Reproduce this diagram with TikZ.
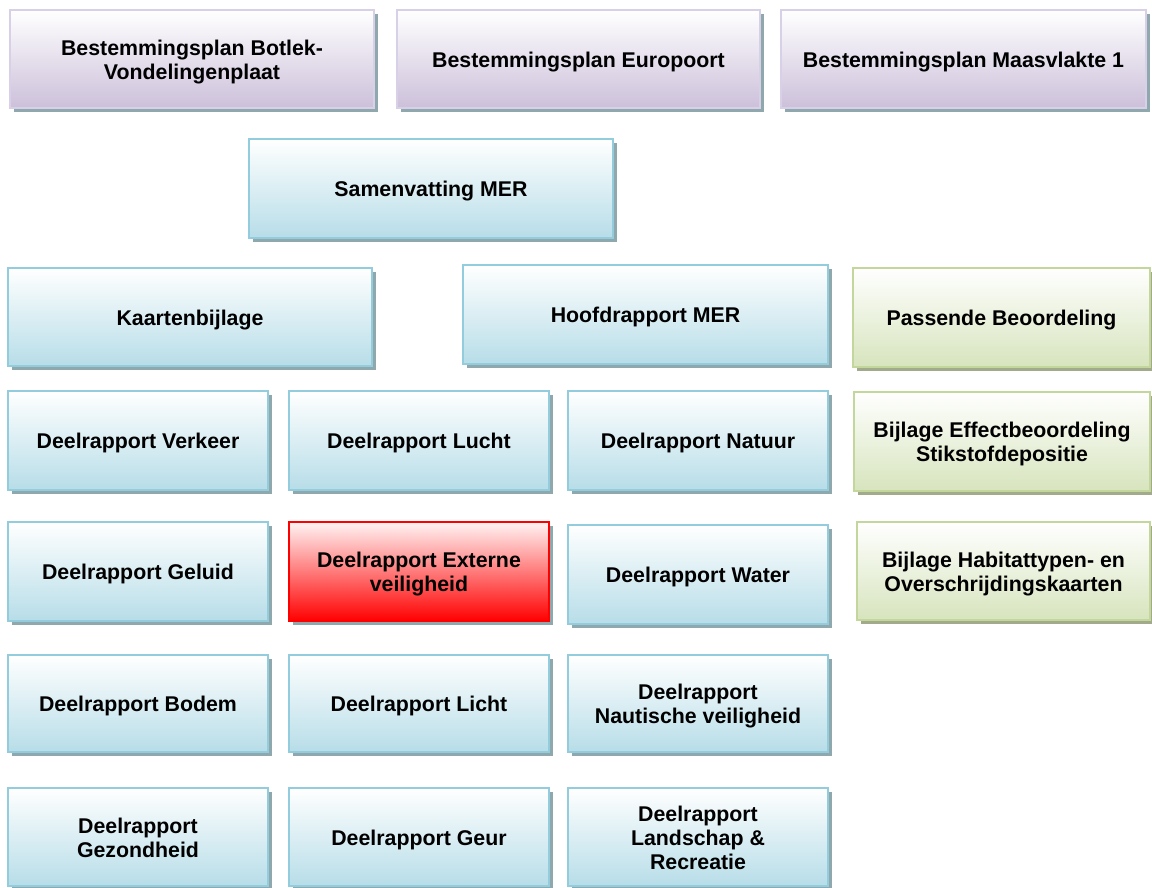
\documentclass[tikz,border=0pt]{standalone}
\usepackage{fontspec}
\setmainfont{Liberation Sans}
\usetikzlibrary{shadows}
\definecolor{blueBot}{HTML}{B7DDE8}
\definecolor{blueBorder}{HTML}{93CDDD}
\definecolor{purpleBot}{HTML}{CCC0DA}
\definecolor{purpleBorder}{HTML}{D8D0E6}
\definecolor{greenBot}{HTML}{D7E4BD}
\definecolor{greenBorder}{HTML}{C3D69B}
\definecolor{shadowBlue}{HTML}{8EA8AE}
\definecolor{shadowGreen}{HTML}{A2AA8C}
\definecolor{redTop}{HTML}{FFF4F4}
\newcommand\boxlbl[1]{\raisebox{-3.5bp}[\height][\depth]{\begin{tabular}{@{}c@{}}#1\end{tabular}}}
\tikzset{
  box/.style={rectangle, inner sep=2bp, text=black,
    font=\fontsize{21.4}{24}\selectfont\bfseries, line width=1.6bp},
  sz/.style 2 args={minimum width=#1 bp, minimum height=#2 bp},
  bluebox/.style={box, draw=blueBorder, top color=white, bottom color=blueBot,
    drop shadow={shadow xshift=4bp, shadow yshift=-4bp, fill=shadowBlue, opacity=1}},
  purplebox/.style={box, draw=purpleBorder, top color=white, bottom color=purpleBot,
    drop shadow={shadow xshift=4bp, shadow yshift=-4bp, fill=shadowBlue, opacity=1}},
  greenbox/.style={box, draw=greenBorder, top color=white, bottom color=greenBot,
    drop shadow={shadow xshift=4bp, shadow yshift=-4bp, fill=shadowGreen, opacity=1}},
  redbox/.style={box, draw=red, line width=2.4bp, top color=redTop, bottom color=red,
    drop shadow={shadow xshift=4bp, shadow yshift=-4bp, fill=shadowBlue, opacity=1}},
}
\begin{document}
\begin{tikzpicture}[x=1bp, y=-1bp]
\useasboundingbox[fill=white] (0,0) rectangle (1152,888);
% row 1
\node[purplebox, sz={364}{98}] (p1) at (192,59) {\boxlbl{Bestemmingsplan Botlek-\\Vondelingenplaat}};
\node[purplebox, sz={363}{98}] (p2) at (578.5,59) {\boxlbl{Bestemmingsplan Europoort}};
\node[purplebox, sz={365}{98}] (p3) at (963.5,59) {\boxlbl{Bestemmingsplan Maasvlakte 1}};
% row 2
\node[bluebox, sz={364}{99}] (sam) at (431,188.5) {\boxlbl{Samenvatting MER}};
% row 3
\node[bluebox, sz={364}{98}] (kaart) at (190,317) {\boxlbl{Kaartenbijlage}};
\node[bluebox, sz={365}{99}] (hoofd) at (645.5,314.5) {\boxlbl{Hoofdrapport MER}};
\node[greenbox, sz={297}{99}] (pass) at (1001.5,317.5) {\boxlbl{Passende Beoordeling}};
% row 4
\node[bluebox, sz={260}{99}] (verk) at (138,440.5) {\boxlbl{Deelrapport Verkeer}};
\node[bluebox, sz={260}{99}] (lucht) at (419,440.5) {\boxlbl{Deelrapport Lucht}};
\node[bluebox, sz={260}{99}] (natuur) at (698,440.5) {\boxlbl{Deelrapport Natuur}};
\node[greenbox, sz={296}{99}] (effect) at (1002,441.5) {\boxlbl{Bijlage Effectbeoordeling\\Stikstofdepositie}};
% row 5
\node[bluebox, sz={260}{99}] (geluid) at (138,571.5) {\boxlbl{Deelrapport Geluid}};
\node[redbox, sz={260}{99}] (extern) at (419,571.5) {\boxlbl{Deelrapport Externe\\veiligheid}};
\node[bluebox, sz={260}{99}] (water) at (698,574.5) {\boxlbl{Deelrapport Water}};
\node[greenbox, sz={293}{98}] (habitat) at (1003.5,571) {\boxlbl{Bijlage Habitattypen- en\\Overschrijdingskaarten}};
% row 6
\node[bluebox, sz={260}{97}] (bodem) at (138,703.5) {\boxlbl{Deelrapport Bodem}};
\node[bluebox, sz={260}{97}] (licht) at (419,703.5) {\boxlbl{Deelrapport Licht}};
\node[bluebox, sz={260}{97}] (naut) at (698,703.5) {\boxlbl{Deelrapport\\Nautische veiligheid}};
% row 7
\node[bluebox, sz={260}{98}] (gezond) at (138,837) {\boxlbl{Deelrapport\\Gezondheid}};
\node[bluebox, sz={260}{98}] (geur) at (419,837) {\boxlbl{Deelrapport Geur}};
\node[bluebox, sz={260}{98}] (land) at (698,837) {\boxlbl{Deelrapport\\Landschap \&\\Recreatie}};
\end{tikzpicture}
\end{document}
